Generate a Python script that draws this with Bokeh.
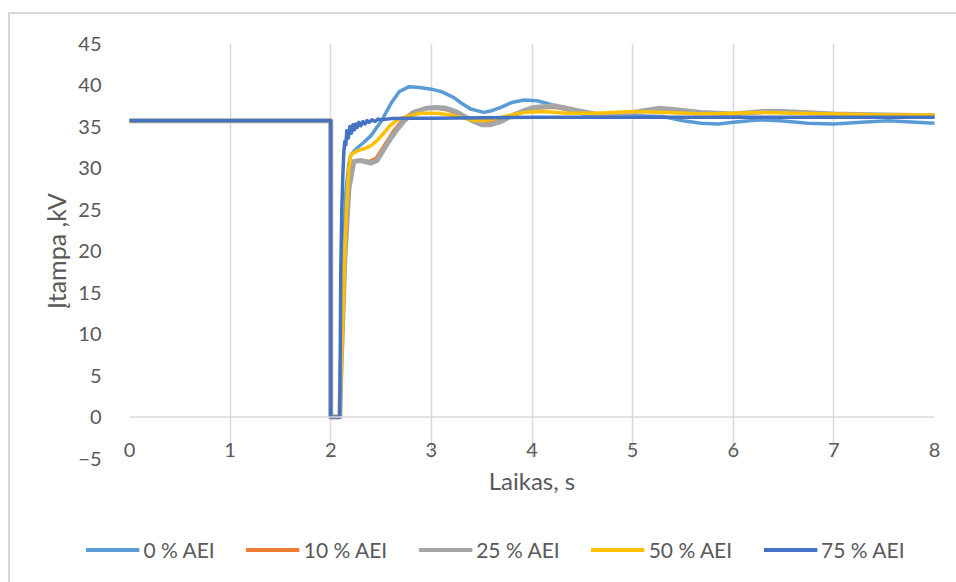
from bokeh.plotting import figure
from bokeh.models import Range1d, FixedTicker, Legend, LegendItem, Span
from bokeh.layouts import column
from bokeh.embed import file_html
from bokeh.resources import INLINE

# Shared pre-fault level and the short voltage dip (time s, voltage kV)
pre_t = [0.0, 2.0, 2.0, 2.09]
pre_v = [35.7, 35.7, 0.0, 0.0]

# Recovery after the dip for each share of renewable generation (AEI)
t_0 = [2.10, 2.11, 2.13, 2.15, 2.18, 2.20, 2.27, 2.33, 2.40, 2.50, 2.60, 2.68, 2.78, 2.88,
       3.00, 3.10, 3.22, 3.30, 3.39, 3.52, 3.60, 3.69, 3.80, 3.92, 4.05, 4.18, 4.30, 4.48,
       4.65, 4.80, 5.00, 5.30, 5.50, 5.68, 5.85, 6.00, 6.27, 6.47, 6.74, 7.00, 7.27, 7.54, 8.00]
v_0 = [6.0, 13.0, 21.0, 27.0, 30.5, 31.6, 32.5, 33.1, 33.9, 35.6, 37.8, 39.2, 39.8, 39.7,
       39.5, 39.2, 38.5, 37.8, 37.1, 36.7, 36.9, 37.3, 37.9, 38.2, 38.1, 37.7, 37.2, 36.6,
       36.1, 36.1, 36.3, 36.2, 35.7, 35.4, 35.3, 35.5, 35.8, 35.7, 35.4, 35.3, 35.5, 35.7, 35.4]

t_10 = [2.10, 2.12, 2.14, 2.17, 2.22, 2.30, 2.38, 2.45, 2.54, 2.63, 2.72, 2.82, 2.95, 3.05,
        3.15, 3.26, 3.38, 3.50, 3.58, 3.69, 3.80, 3.92, 4.05, 4.22, 4.42, 4.62, 4.80, 5.00,
        5.27, 5.50, 5.70, 6.00, 6.30, 6.50, 7.00, 7.50, 8.00]
v_10 = [6.0, 13.0, 20.0, 27.0, 30.7, 30.9, 30.8, 31.2, 32.9, 34.6, 35.9, 36.8, 37.2, 37.2,
        37.0, 36.5, 35.8, 35.5, 35.5, 35.8, 36.4, 36.9, 37.2, 37.3, 36.9, 36.5, 36.5, 36.7,
        37.0, 36.9, 36.6, 36.5, 36.7, 36.7, 36.5, 36.4, 36.3]

t_25 = [2.10, 2.12, 2.14, 2.18, 2.23, 2.30, 2.40, 2.46, 2.56, 2.65, 2.73, 2.83, 2.95, 3.06,
        3.15, 3.26, 3.39, 3.50, 3.58, 3.69, 3.80, 3.92, 4.02, 4.22, 4.42, 4.62, 4.78, 5.00,
        5.27, 5.45, 5.68, 6.00, 6.30, 6.50, 7.00, 7.50, 8.00]
v_25 = [5.0, 12.0, 19.0, 27.5, 30.8, 30.9, 30.6, 30.9, 32.9, 34.5, 35.7, 36.7, 37.2, 37.3,
        37.2, 36.7, 35.8, 35.2, 35.2, 35.6, 36.3, 36.9, 37.3, 37.5, 37.0, 36.5, 36.4, 36.7,
        37.2, 37.0, 36.7, 36.5, 36.8, 36.8, 36.5, 36.4, 36.3]

t_50 = [2.10, 2.12, 2.14, 2.16, 2.18, 2.20, 2.27, 2.33, 2.40, 2.46, 2.52, 2.59, 2.66, 2.73,
        2.89, 3.06, 3.18, 3.29, 3.40, 3.49, 3.58, 3.69, 3.80, 3.92, 4.10, 4.35, 4.65, 5.00,
        5.34, 5.68, 6.00, 6.30, 6.60, 7.00, 7.50, 8.00]
v_50 = [5.0, 12.0, 20.0, 26.0, 30.0, 31.6, 32.1, 32.3, 32.7, 33.3, 34.1, 35.1, 35.8, 36.1,
        36.6, 36.6, 36.4, 36.1, 35.8, 35.7, 35.8, 36.1, 36.4, 36.7, 36.8, 36.6, 36.6, 36.8,
        36.7, 36.5, 36.6, 36.7, 36.6, 36.5, 36.4, 36.4]

t_75 = [2.10, 2.11, 2.12, 2.13, 2.14, 2.15, 2.16, 2.175, 2.19, 2.205, 2.22, 2.235, 2.25,
        2.265, 2.28, 2.30, 2.32, 2.34, 2.36, 2.38, 2.41, 2.44, 2.47, 2.50, 2.60, 2.80, 3.00,
        4.00, 5.00, 6.00, 7.00, 8.00]
v_75 = [18.0, 25.0, 29.0, 32.0, 33.2, 32.8, 34.5, 33.6, 35.0, 34.2, 35.2, 34.6, 35.3,
        34.9, 35.5, 35.1, 35.6, 35.3, 35.7, 35.5, 35.8, 35.6, 35.9, 35.8, 35.95, 36.0, 36.0,
        36.1, 36.1, 36.1, 36.1, 36.1]

series_labels = ["0 % AEI", "10 % AEI", "25 % AEI", "50 % AEI", "75 % AEI"]
series_t = [t_0, t_10, t_25, t_50, t_75]
series_v = [v_0, v_10, v_25, v_50, v_75]
series_colors = ["#5B9BD5", "#ED7D31", "#A5A5A5", "#FFC000", "#4472C4"]
series_widths = [3.5, 3.0, 5.0, 3.5, 3.5]

x_ticks = [0, 1, 2, 3, 4, 5, 6, 7, 8]
y_ticks = [-5, 0, 5, 10, 15, 20, 25, 30, 35, 40, 45]

FONT = "Lato"
TEXT = "#595959"
GRID = "#d9d9d9"

# main chart: plot area spans 0..8 s and -5..45 kV
p = figure(width=946, height=494,
           x_range=Range1d(0, 8), y_range=Range1d(-5, 45),
           output_backend="svg", toolbar_location=None,
           min_border_left=119, min_border_right=22,
           min_border_top=29, min_border_bottom=50,
           outline_line_color=None, background_fill_color="white",
           border_fill_color="white")
p.frame_align = False

# zero line acting as the horizontal axis line
p.add_layout(Span(location=0, dimension="width", line_color=GRID, line_width=1.5))

for ts, vs, col, w in zip(series_t, series_v, series_colors, series_widths):
    p.line(pre_t + ts, pre_v + vs, line_color=col, line_width=w,
           line_join="round", line_cap="round")

xa = p.xaxis[0]
xa.ticker = FixedTicker(ticks=x_ticks)
xa.axis_line_color = None
xa.major_tick_line_color = None
xa.minor_tick_line_color = None
xa.major_label_standoff = -22
xa.major_label_text_font = FONT
xa.major_label_text_font_size = "20px"
xa.major_label_text_color = TEXT
xa.axis_label = "Laikas, s"
xa.axis_label_text_font = FONT
xa.axis_label_text_font_size = "24px"
xa.axis_label_text_font_style = "normal"
xa.axis_label_text_color = TEXT
xa.axis_label_standoff = 6

ya = p.yaxis[0]
ya.ticker = FixedTicker(ticks=y_ticks)
ya.axis_line_color = None
ya.major_tick_line_color = None
ya.minor_tick_line_color = None
ya.major_label_standoff = 22
ya.major_label_text_font = FONT
ya.major_label_text_font_size = "20px"
ya.major_label_text_color = TEXT
ya.axis_label = "Įtampa ,kV"
ya.axis_label_text_font = FONT
ya.axis_label_text_font_size = "25px"
ya.axis_label_text_font_style = "normal"
ya.axis_label_text_color = TEXT
ya.axis_label_standoff = 4

p.xgrid.ticker = FixedTicker(ticks=x_ticks)
p.xgrid.grid_line_color = GRID
p.xgrid.grid_line_width = 1.5
p.ygrid.grid_line_color = None

# legend strip under the chart; its ranges keep the series themselves out of view
leg = figure(width=946, height=74, x_range=Range1d(-10, -9), y_range=Range1d(-10, -9),
             output_backend="svg", toolbar_location=None,
             x_axis_location=None, y_axis_location=None,
             min_border=0, min_border_left=24, min_border_top=8,
             outline_line_color=None,
             background_fill_color="white", border_fill_color="white")
leg.frame_align = False
leg.grid.visible = False
items = []
for lab, ts, vs, col in zip(series_labels, series_t, series_v, series_colors):
    r = leg.line(pre_t + ts, pre_v + vs, line_color=col, line_width=4)
    items.append(LegendItem(label=lab, renderers=[r]))
legend = Legend(items=items, orientation="horizontal", location="center",
                glyph_width=54, glyph_height=20, label_height=20, label_standoff=4,
                spacing=31, padding=0, margin=0,
                label_text_font=FONT, label_text_font_size="21px",
                label_text_color=TEXT, border_line_color=None,
                background_fill_alpha=0)
leg.add_layout(legend)

page = column(p, leg, spacing=0,
              styles={"margin-left": "8px", "margin-top": "12px",
                      "border-left": "2px solid #d9d9d9",
                      "border-top": "2px solid #d9d9d9"})

open("out.html", "w").write(file_html(page, INLINE))
